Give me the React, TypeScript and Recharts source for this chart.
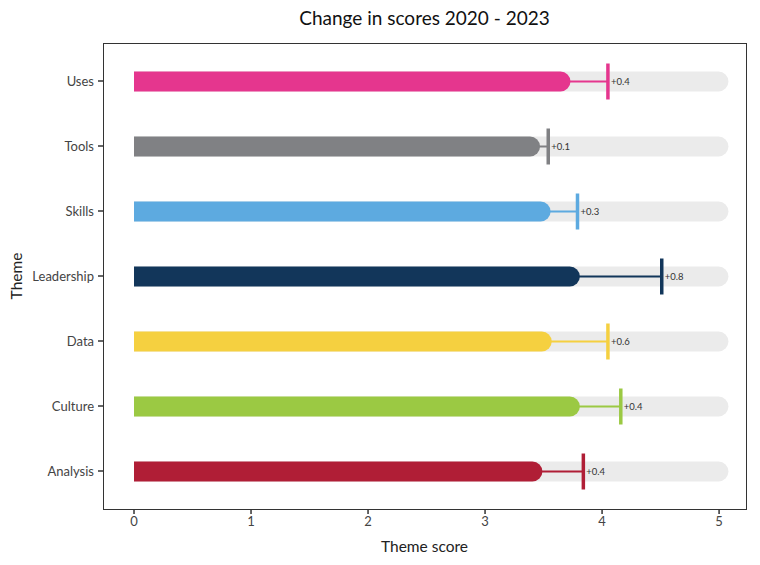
import React from 'react'
import { ComposedChart, Bar, XAxis, YAxis } from 'recharts'

// themes top to bottom
const themes = ['Uses', 'Tools', 'Skills', 'Leadership', 'Data', 'Culture', 'Analysis']
const score2020 = [3.73, 3.47, 3.56, 3.81, 3.57, 3.81, 3.49]
const score2023 = [4.05, 3.54, 3.79, 4.51, 4.05, 4.16, 3.84]
const changeLabels = ['+0.4', '+0.1', '+0.3', '+0.8', '+0.6', '+0.4', '+0.4']
const colors = ['#E5368E', '#808184', '#5DAAE0', '#12365A', '#F5D040', '#9BC943', '#B01E36']
const trackMax = 5.08
const xTicks = [0, 1, 2, 3, 4, 5]

const data = themes.map((theme, i) => ({
  theme,
  track: trackMax,
  score: score2020[i],
  range: [score2020[i], score2023[i]],
  label: changeLabels[i],
  color: colors[i]
}))

const FONT = 'Lato, "Open Sans", sans-serif'
const BAR_H = 20

function roundedRight(x: number, y: number, w: number, h: number) {
  const r = Math.min(h / 2, w)
  return `M${x},${y} L${x + w - r},${y} A${r},${r} 0 0 1 ${x + w - r},${y + h} L${x},${y + h} Z`
}

const TrackShape = (props: any) => {
  const { x, y, width, height } = props
  const top = y + (height - BAR_H) / 2
  return <path d={roundedRight(x, top, width, BAR_H)} fill="#EBEBEB" />
}

const ScoreShape = (props: any) => {
  const { x, y, width, height, payload } = props
  const top = y + (height - BAR_H) / 2
  return <path d={roundedRight(x, top, width, BAR_H)} fill={payload.color} />
}

const ChangeShape = (props: any) => {
  const { x, y, width, height, payload } = props
  const mid = y + height / 2
  const end = x + width
  return (
    <g>
      <line x1={x - 6} y1={mid} x2={end} y2={mid} stroke={payload.color} strokeWidth={2} />
      <line x1={end} y1={y} x2={end} y2={y + height} stroke={payload.color} strokeWidth={3.5} />
      <text x={end + 3} y={mid} fontSize={9.5} fill="#333" fontFamily={FONT} dominantBaseline="central">
        {payload.label}
      </text>
    </g>
  )
}

export default function App() {
  return (
    <div style={{ position: 'absolute', left: 0, top: 0, width: 760, height: 565, background: '#fff' }}>
      <div
        style={{
          position: 'absolute', left: 103, width: 643, top: 6, textAlign: 'center',
          fontFamily: FONT, fontSize: 19, color: '#111'
        }}
      >
        Change in scores 2020 - 2023
      </div>
      <ComposedChart
        width={760}
        height={565}
        data={data}
        layout="vertical"
        margin={{ top: 43, right: 14, bottom: 0, left: 0 }}
        barSize={36}
        barGap={-36}
      >
        <XAxis
          type="number"
          domain={[-0.265, 5.23]}
          allowDataOverflow
          ticks={xTicks}
          height={56}
          axisLine={false}
          tickSize={5}
          tickMargin={3}
          tickLine={{ stroke: '#333', strokeWidth: 1.5 }}
          tick={{ fontSize: 13, fill: '#444', fontFamily: FONT }}
          label={{ value: 'Theme score', position: 'center', dy: 9, fontSize: 15.5, fill: '#222', fontFamily: FONT }}
        />
        <YAxis
          type="category"
          dataKey="theme"
          width={103}
          padding={{ top: 5.5, bottom: 5.5 }}
          axisLine={false}
          tickSize={5}
          tickMargin={4}
          tickLine={{ stroke: '#333', strokeWidth: 1.5 }}
          tick={{ fontSize: 13, fill: '#444', fontFamily: FONT }}
          label={{ value: 'Theme', angle: -90, position: 'center', dx: -35, fontSize: 15.5, fill: '#222', fontFamily: FONT }}
        />
        <Bar dataKey="track" shape={TrackShape} isAnimationActive={false} />
        <Bar dataKey="range" shape={ChangeShape} isAnimationActive={false} />
        <Bar dataKey="score" shape={ScoreShape} isAnimationActive={false} />
      </ComposedChart>
      <div
        style={{
          position: 'absolute', left: 103, top: 43, width: 644, height: 467,
          boxSizing: 'border-box', border: '1px solid #333', pointerEvents: 'none'
        }}
      />
    </div>
  )
}
